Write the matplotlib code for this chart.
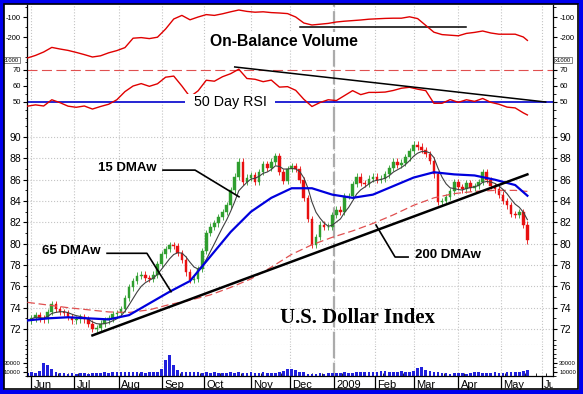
import numpy as np
import pandas as pd
import matplotlib
matplotlib.use('Agg')
import matplotlib.pyplot as plt
from matplotlib.patches import Rectangle
import matplotlib.transforms as mtrans

# trading calendar: weekdays minus US market holidays
holidays = ['2008-05-26', '2008-07-04', '2008-09-01', '2008-11-27', '2008-12-25',
            '2009-01-01', '2009-01-19', '2009-02-16', '2009-04-10', '2009-05-25']
first_bar = '2008-05-29'
month_labels = ['Jun', 'Jul', 'Aug', 'Sep', 'Oct', 'Nov', 'Dec', '2009',
                'Feb', 'Mar', 'Apr', 'May', 'Jun']

# closing values, one bar every second trading day
closes = [72.8, 73.0, 73.3, 73.0, 72.9, 73.6, 74.3, 73.9, 73.6, 73.5,
          73.1, 72.8, 72.9, 73.1, 72.9, 72.5, 72.0, 72.1, 72.5, 72.8,
          73.0, 73.4, 73.5, 73.9, 74.9, 75.9, 76.5, 77.0, 77.1, 76.8,
          76.7, 77.1, 78.1, 79.0, 79.5, 79.9, 79.8, 79.1, 78.5, 77.3,
          76.6, 76.7, 77.6, 79.3, 81.0, 81.6, 81.9, 82.5, 83.0, 83.6,
          85.0, 86.3, 87.7, 85.8, 86.2, 86.4, 85.8, 86.7, 87.5, 87.1,
          87.7, 88.2, 86.7, 85.9, 87.0, 87.3, 87.0, 86.0, 84.3, 82.3,
          79.9, 80.6, 81.8, 81.6, 81.6, 82.7, 83.2, 83.0, 84.5, 84.5,
          85.6, 86.3, 85.7, 85.6, 86.1, 86.3, 86.0, 86.1, 86.5, 87.1,
          87.7, 87.4, 87.6, 88.1, 88.7, 89.3, 89.1, 88.8, 88.4, 87.8,
          86.5, 83.9, 84.0, 84.4, 84.9, 85.8, 85.3, 85.1, 85.7, 85.2,
          85.4, 85.8, 86.7, 86.0, 85.4, 85.1, 84.6, 84.0, 83.6, 82.8,
          82.7, 83.0, 81.8, 80.3]

# weighted moving averages read every fifth bar (plus the last one)
dma65 = [72.8, 73.0, 73.1, 73.0, 72.9, 73.3, 74.4, 75.5, 76.5, 78.8,
         81.1, 83.0, 84.3, 85.2, 85.2, 84.6, 84.3, 84.6, 85.4, 86.2,
         86.7, 86.5, 86.4, 86.0, 85.5, 84.5]
dma200 = [74.5, 74.25, 74.0, 73.8, 73.6, 73.55, 73.8, 74.3, 74.7, 75.2,
          75.9, 76.7, 77.8, 79.0, 79.9, 80.6, 81.2, 81.9, 82.7, 83.6,
          84.3, 84.7, 84.9, 85.0, 85.0, 84.9]

# on-balance volume (x1000) and 50 day RSI, every second bar (plus the last one)
obv = [-305, -292, -275, -252, -260, -267, -277, -288, -300, -294,
       -279, -268, -253, -206, -203, -208, -201, -160, -110, -92,
       -114, -100, -88, -92, -84, -74, -65, -72, -76, -74,
       -78, -80, -83, -100, -130, -140, -136, -132, -125, -121,
       -118, -115, -111, -109, -107, -106, -106, -99, -108, -142,
       -176, -188, -191, -194, -182, -177, -170, -180, -186, -186,
       -186, -200, -217]
rsi = [47.4, 48.2, 47.5, 51.4, 49.6, 47.4, 46.7, 47.5, 45.6, 47.2,
       48.6, 51.4, 56.5, 60.0, 61.5, 59.8, 61.4, 65.5, 66.2, 60.0,
       53.2, 57.0, 63.6, 63.0, 65.8, 67.7, 70.5, 64.7, 64.2, 62.7,
       63.7, 59.3, 59.6, 57.3, 51.7, 47.2, 49.7, 51.4, 50.9, 54.0,
       57.1, 54.6, 56.0, 56.0, 56.2, 57.2, 58.6, 59.2, 58.0, 57.1,
       49.2, 49.2, 51.5, 49.8, 51.4, 50.4, 52.2, 49.8, 48.6, 46.8,
       46.3, 43.2, 41.9]

# volume in thousands, one value per bar
volume_k = [6, 8, 7, 12, 29, 24, 15, 8, 6, 7,
            5, 6, 5, 7, 6, 5, 6, 7, 6, 8,
            7, 8, 9, 8, 9, 10, 8, 9, 8, 7,
            8, 9, 10, 15, 36, 47, 25, 14, 10, 9,
            8, 9, 8, 7, 8, 7, 8, 7, 6, 7,
            8, 7, 8, 6, 7, 8, 6, 7, 8, 7,
            6, 7, 9, 12, 15, 16, 13, 10, 8, 5,
            4, 5, 6, 5, 6, 7, 6, 7, 8, 6,
            7, 8, 9, 10, 9, 8, 9, 11, 12, 10,
            9, 10, 11, 9, 10, 12, 18, 21, 14, 11,
            9, 8, 7, 6, 5, 6, 7, 6, 5, 7,
            8, 9, 7, 6, 7, 8, 6, 7, 8, 9,
            8, 9, 11, 13]

# trend lines drawn on the chart (date, value)
price_trend = [('2008-07-15', 71.4), ('2009-05-20', 86.5)]
rsi_trend = [('2008-10-22', 71.9), ('2009-06-03', 50.0)]
obv_flat = [('2008-12-08', -150), ('2009-04-07', -150)]

# ---------------------------------------------------------------
days = pd.bdate_range('2008-05-01', '2009-07-31', freq='C', holidays=holidays)
d0 = days.get_loc(pd.Timestamp('2008-06-02'))
def pos(date):
    return days.get_loc(pd.Timestamp(date)) - d0

allpos = np.arange(len(days)) - d0
start = days.get_loc(pd.Timestamp(first_bar))
xs = allpos[start::2][:len(closes)]
n = len(closes)
ma_idx = list(range(0, n, 5)) + [n - 1]
line_idx = list(range(0, n, 2)) + [n - 1]

months = pd.Series(allpos, index=days)
month_pos = months.groupby([days.year, days.month]).first()
month_pos = month_pos[(month_pos >= 0) & (month_pos <= 255)].values
year_pos = pos('2009-01-02')

c = np.array(closes)
o = np.r_[c[0], c[:-1]]
wick = 0.3
hi = np.maximum(o, c) + wick
lo = np.minimum(o, c) - wick

# 15 day weighted average from the closes
def wma(w):
    k = np.arange(1, len(w) + 1)
    return np.dot(w, k) / k.sum()
dma15 = pd.Series(c).rolling(8, min_periods=1).apply(wma, raw=True)

# ---------------------------------------------------------------
fig = plt.figure(figsize=(5.83, 3.94), dpi=100)
L, W = 27 / 583, 526 / 583
def panel(top_px, bot_px):
    return fig.add_axes([L, 1 - bot_px / 394, W, (bot_px - top_px) / 394])

ax_obv = panel(5, 60)
ax_rsi = panel(60, 120)
ax_main = panel(120, 345)
ax_vol = panel(345, 376)

grid_col = '#c4c4c4'
for ax in (ax_obv, ax_rsi, ax_main, ax_vol):
    ax.set_xlim(-2.2, 256.6)
    ax.spines['top'].set_visible(False)
    ax.spines['bottom'].set_visible(False)
    ax.spines['left'].set_linewidth(0.9)
    ax.spines['right'].set_linewidth(0.9)
    ax.tick_params(axis='x', which='both', bottom=False, labelbottom=False)
    ax.tick_params(axis='y', which='both', left=True, right=True,
                   labelleft=True, labelright=True, direction='out', pad=1.5)
    ax.tick_params(axis='y', which='major', length=3)
    ax.tick_params(axis='y', which='minor', length=1.8)
    for m in month_pos:
        ax.axvline(m, color=grid_col, ls=':', lw=0.8, zorder=0)
    ax.axvline(year_pos, color='#ababab', ls=(0, (6, 2)), lw=1.6, zorder=0.5)

# On-Balance Volume
ax_obv.set_ylim(-315, -40)
ax_obv.plot(xs[line_idx], obv, color='#e00000', lw=1.0, zorder=3)
ax_obv.plot([pos(d) for d, v in obv_flat], [v for d, v in obv_flat], color='black', lw=1.1, zorder=2)
ax_obv.set_yticks([-200, -100])
ax_obv.set_yticklabels(['-200', '-100'])
ax_obv.set_yticks(np.arange(-300, -40, 50), minor=True)
ax_obv.tick_params(axis='y', labelsize=5.5)
ax_obv.text(124.3, -220, 'On-Balance Volume', fontsize=11.3, fontweight='bold',
            family='Liberation Sans', ha='center', va='center', zorder=4,
            bbox=dict(boxstyle='square,pad=0.1', fc='white', ec='none'))

# RSI
ax_rsi.set_ylim(38.75, 76.25)
ax_rsi.axhline(70, color='#e05050', ls=(0, (9, 4)), lw=0.8, zorder=1)
ax_rsi.axhline(50, color='#0000cc', lw=1.2, zorder=2)
ax_rsi.plot(xs[line_idx], rsi, color='#e00000', lw=1.0, zorder=3)
ax_rsi.plot([pos(d) for d, v in rsi_trend], [v for d, v in rsi_trend], color='black', lw=1.1, zorder=4)
ax_rsi.set_yticks([50, 60, 70])
ax_rsi.set_yticks([40, 45, 55, 65, 75], minor=True)
ax_rsi.tick_params(axis='y', labelsize=5.5)
ax_rsi.text(97.7, 50, '  50 Day RSI  ', fontsize=10.3, family='Liberation Sans',
            ha='center', va='center', zorder=5,
            bbox=dict(boxstyle='square,pad=0.05', fc='white', ec='none'))
for xf in (-0.045, 1.004):
    ax_rsi.text(xf, 1.0, 'x1000', transform=ax_rsi.transAxes, fontsize=4.2,
                family='Liberation Sans', ha='left', va='center',
                bbox=dict(boxstyle='square,pad=0.15', fc='white', ec='#555555', lw=0.5))

# main price panel
ax_main.set_ylim(70.5, 91.6)
ax_main.set_yticks(np.arange(72, 91, 2))
ax_main.set_yticks(np.arange(71, 92, 1), minor=True)
ax_main.tick_params(axis='y', labelsize=7.5)
for yv in np.arange(72, 91, 2):
    ax_main.axhline(yv, color=grid_col, ls=':', lw=0.8, zorder=0)
ax_main.axhline(70.5, color=grid_col, ls=':', lw=0.8, zorder=0)

up = c >= o
cols = np.where(up, '#2f9e2f', '#e81010')
ax_main.vlines(xs, lo, hi, colors=cols, lw=0.6, zorder=2)
ax_main.bar(xs, c - o, bottom=o, width=1.3, color=cols, edgecolor=cols, lw=0.3, zorder=2)

ax_main.plot(xs[ma_idx], dma200, color='#e05050', lw=0.9, ls=(0, (6, 3)), zorder=3)
ax_main.plot(xs, dma15, color='#404040', lw=0.8, zorder=4)
ax_main.plot(xs[ma_idx], dma65, color='#0000dd', lw=1.6, zorder=5)
ax_main.plot([pos(d) for d, v in price_trend], [v for d, v in price_trend], color='black', lw=1.8, zorder=6)

lbl = dict(fontsize=9.5, fontweight='bold', family='Liberation Sans', va='center', ha='left', zorder=7)
ax_main.text(32.7, 87.1, '15 DMAw', **lbl)
ax_main.plot([64.7, 80.5, 102.1], [86.9, 86.9, 84.4], color='black', lw=1.2, zorder=7)
ax_main.text(5.2, 79.3, '65 DMAw', **lbl)
ax_main.plot([37.2, 56.8, 68.7], [79.1, 79.1, 75.5], color='black', lw=1.2, zorder=7)
ax_main.text(188.7, 78.9, '200 DMAw', **lbl)
ax_main.plot([185.3, 178.9, 169.5], [78.75, 78.75, 81.75], color='black', lw=1.2, zorder=7)
ax_main.text(122.3, 73.0, 'U.S. Dollar Index', fontsize=15, fontweight='bold',
             family='Liberation Serif', ha='left', va='center', zorder=7)

# volume panel
ax_vol.set_ylim(0, 70000)
ax_vol.bar(xs, np.array(volume_k) * 1000, width=1.3, color='#2020dd', lw=0, zorder=2)
ax_vol.spines['bottom'].set_visible(True)
ax_vol.spines['bottom'].set_linewidth(0.9)
ax_vol.set_yticks([10000, 30000])
ax_vol.set_yticks(np.arange(0, 70001, 10000), minor=True)
ax_vol.tick_params(axis='y', labelsize=4.3)
ax_vol.set_xticks(month_pos)
ax_vol.set_xticks(allpos[(allpos > -3) & (allpos < 256)][::5], minor=True)
ax_vol.tick_params(axis='x', which='major', bottom=True, direction='out', length=9, width=0.9)
ax_vol.tick_params(axis='x', which='minor', bottom=True, direction='in', length=2, width=0.6)

# month names sit right of their tick; the last one is cut at the right axis
clip_box = mtrans.TransformedBbox(mtrans.Bbox([[0, 0], [553 / 583, 1]]), fig.transFigure)
xform = mtrans.blended_transform_factory(ax_vol.transData, ax_vol.transAxes)
for m, name in zip(month_pos, month_labels):
    t = ax_vol.text(m + 1.2, -0.12, name, transform=xform,
                    fontsize=8, family='Liberation Sans', ha='left', va='top')
    t.set_clip_on(True)
    t.set_clip_box(clip_box)

for ax in (ax_obv, ax_rsi, ax_main, ax_vol):
    for lab in ax.get_yticklabels():
        lab.set_fontfamily('Liberation Sans')

# blue frame round the picture
fig.patches.append(Rectangle((0, 0), 1, 1, transform=fig.transFigure, fill=False,
                             edgecolor='#0000ee', lw=6, zorder=10))
fig.patches.append(Rectangle((4 / 583, 5 / 394), 1 - 9 / 583, 1 - 9 / 394, transform=fig.transFigure,
                             fill=False, edgecolor='black', lw=1.2, zorder=10))

fig.savefig('out.png', dpi=100, facecolor='white')
